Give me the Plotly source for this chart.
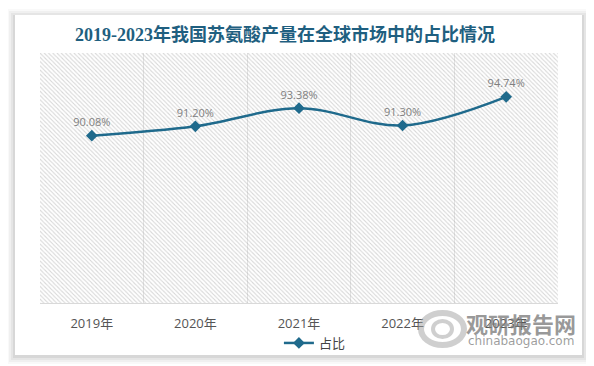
import plotly.graph_objects as go

years = ["2019年", "2020年", "2021年", "2022年", "2023年"]
share = [90.08, 91.20, 93.38, 91.30, 94.74]
labels = ["90.08%", "91.20%", "93.38%", "91.30%", "94.74%"]
series_name = "占比"
title_text = "2019-2023年我国苏氨酸产量在全球市场中的占比情况"

Y_MIN, Y_MAX = 70, 100
OFF = 8                      # page body margin
W, H = 594 - OFF, 366 - OFF  # figure size
# plot area in reference pixels: x 40..558, y 53..303
ML, MR, MT, MB = 40 - OFF, 594 - 558, 53 - OFF, 366 - 303
PW, PH = W - ML - MR, H - MT - MB
LINE_COLOR = "#1f6a8c"


def px(x):
    return (x - OFF - ML) / PW


def py(y):
    return (H - MB - (y - OFF)) / PH


def cy(y):
    return 1 - (y - OFF) / H


def cx(x):
    return (x - OFF) / W


fig = go.Figure()

# hatched background of plot area
fig.add_trace(go.Bar(
    x=years, y=[Y_MAX - Y_MIN] * len(years), base=Y_MIN, width=1,
    marker=dict(color="rgba(0,0,0,0)", line=dict(width=0),
                pattern=dict(shape="\\", fgcolor="#b0b0b0", bgcolor="rgba(0,0,0,0)",
                             size=3, solidity=0.35)),
    showlegend=False, hoverinfo="skip",
))

fig.add_trace(go.Scatter(
    x=years, y=share, name=series_name, mode="lines+markers+text",
    line=dict(color=LINE_COLOR, width=2.5, shape="spline", smoothing=1.0),
    marker=dict(symbol="diamond", size=9, color=LINE_COLOR),
    text=labels, textposition="top center",
    textfont=dict(family="Open Sans, Noto Sans CJK SC", size=11, color="#808080"),
    cliponaxis=False,
))

shapes = []
# card shadow
for i, op in enumerate([0.025, 0.035, 0.045, 0.06]):
    d = 8 - 2 * i
    shapes.append(dict(type="rect", xref="paper", yref="paper", layer="below",
                       x0=px(15 - d), x1=px(582 + d), y0=py(356 + d), y1=py(17 - d),
                       fillcolor=f"rgba(0,0,0,{op})", line=dict(width=0)))
shapes.append(dict(type="rect", xref="paper", yref="paper", layer="below",
                   x0=px(15), x1=px(582), y0=py(355), y1=py(15),
                   fillcolor="white", line=dict(width=0)))

# watermark logo rings
shapes.append(dict(type="circle", xref="paper", yref="paper", layer="above",
                   x0=px(421), x1=px(464), y0=py(345), y1=py(313),
                   line=dict(color="rgba(160,160,160,0.5)", width=6), fillcolor="rgba(0,0,0,0)"))
shapes.append(dict(type="circle", xref="paper", yref="paper", layer="above",
                   x0=px(433), x1=px(452), y0=py(337), y1=py(321),
                   line=dict(color="rgba(160,160,160,0.5)", width=4), fillcolor="rgba(0,0,0,0)"))

annotations = [
    dict(text="观研报告网", xref="paper", yref="paper", x=px(521), y=py(323),
         xanchor="center", yanchor="middle", showarrow=False,
         font=dict(family="Noto Sans CJK SC", size=22, color="rgba(120,120,120,0.75)", weight="bold")),
    dict(text="chinabaogao.com", xref="paper", yref="paper", x=px(521), y=py(341),
         xanchor="center", yanchor="middle", showarrow=False,
         font=dict(family="DejaVu Sans", size=12, color="rgba(140,140,140,0.85)")),
]

fig.update_layout(
    width=W, height=H,
    paper_bgcolor="white", plot_bgcolor="rgba(0,0,0,0)",
    margin=dict(l=ML, r=MR, t=MT, b=MB, autoexpand=False),
    title=dict(text=f"<b>{title_text}</b>", x=cx(285), xanchor="center", xref="container",
               y=cy(35), yanchor="middle", yref="container",
               font=dict(family="Liberation Serif, Noto Sans CJK SC", size=18, color="#1f5f80")),
    xaxis=dict(type="category", tickson="boundaries", showgrid=True, gridcolor="#e3e3e3",
               gridwidth=1, ticks="", showline=True, linecolor="#d9d9d9", linewidth=1,
               tickfont=dict(family="Open Sans, Noto Sans CJK SC", size=13, color="#555555"),
               ticklabelstandoff=8, automargin=False,
               range=[-0.5, 4.5], fixedrange=True),
    yaxis=dict(range=[Y_MIN, Y_MAX], showgrid=False, showticklabels=False, zeroline=False,
               ticks="", showline=False, fixedrange=True, automargin=False),
    bargap=0,
    legend=dict(orientation="h", x=cx(319), xanchor="center", y=cy(343), yref="container",
                yanchor="middle", font=dict(family="Noto Sans CJK SC", size=13, color="#444444"),
                bgcolor="rgba(0,0,0,0)"),
    shapes=shapes, annotations=annotations,
    showlegend=True,
)

fig.write_html("out.html")
